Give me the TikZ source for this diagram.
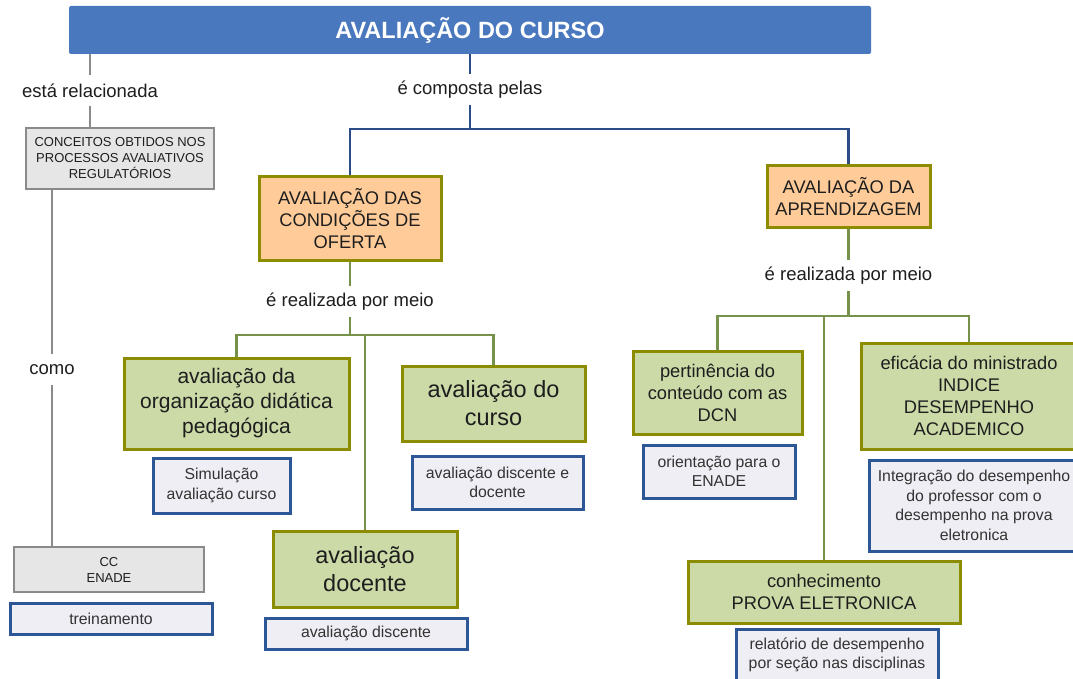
\documentclass[tikz,border=0pt]{standalone}
\usepackage{fontspec}
\setmainfont{Liberation Sans}
\usetikzlibrary{calc}
\definecolor{titlefill}{HTML}{4A78BE}
\definecolor{txt}{HTML}{1E1E1E}
\definecolor{graybd}{HTML}{8A8A8A}
\definecolor{grayfill}{HTML}{E6E6E6}
\definecolor{orfill}{HTML}{FFCC99}
\definecolor{olivebd}{HTML}{8C8C00}
\definecolor{grfill}{HTML}{CCDAA8}
\definecolor{bfill}{HTML}{EFEEF4}
\definecolor{bbd}{HTML}{2C5696}
\definecolor{bline}{HTML}{2B4C86}
\definecolor{gline}{HTML}{76924A}
\tikzset{
  basebox/.style={rectangle, inner sep=0pt, align=center, text=txt},
  graybox/.style={basebox, fill=grayfill, draw=graybd, line width=2.6pt},
  orbox/.style={basebox, fill=orfill, draw=olivebd, line width=3pt},
  grbox/.style={basebox, fill=grfill, draw=olivebd, line width=3pt},
  blbox/.style={basebox, fill=bfill, draw=bbd, line width=3pt, text=black!80},
  lbl/.style={rectangle, inner sep=0pt, align=center, text=txt, font=\fontsize{18.5}{22}\selectfont},
  grayconn/.style={draw=graybd, line width=2.8pt},
  blueconn/.style={draw=bline, line width=2.8pt},
  greenconn/.style={draw=gline, line width=2.8pt},
  fA/.style={font=\fontsize{13}{16}\selectfont},
  fB/.style={font=\fontsize{15.8}{19.5}\selectfont},
  fC/.style={font=\fontsize{18.3}{22}\selectfont},
  fD/.style={font=\fontsize{21}{25}\selectfont},
  fE/.style={font=\fontsize{23.5}{28}\selectfont},
}
% \bx{name}{style}{x1}{y1}{x2}{y2}{text}
\newcommand\bx[7]{\node[#2, minimum width={#5-#3}, minimum height={#6-#4}] (#1) at ({(#3+#5)/2},{(#4+#6)/2}) {#7};}
\begin{document}
\begin{tikzpicture}[x=1pt,y=-1pt]
\useasboundingbox (0,0) rectangle (1073,679);
\fill[white] (0,0) rectangle (1073,679);
\clip (0,0) rectangle (1073,679);

% title
\node[rectangle, rounded corners=2pt, fill=titlefill, minimum width=802, minimum height=48, inner sep=0pt,
  text=white, font=\fontsize{23.5}{28}\selectfont\bfseries] (title) at (470,30) {AVALIAÇÃO DO CURSO};

% left branch
\node[lbl, minimum height=31] (l1) at (90,90.5) {está relacionada};
\bx{conc}{graybox,fA}{26}{128}{214}{189}{CONCEITOS OBTIDOS NOS\\PROCESSOS AVALIATIVOS\\REGULATÓRIOS}
\node[lbl, minimum height=31] (l2) at (52,369.5) {como};
\bx{cc}{graybox,fA}{14}{547}{204}{592}{CC\\ENADE}
\bx{trein}{blbox,fB}{10}{603}{212}{634}{treinamento}

\draw[grayconn] (l1.north |- title.south) -- (l1.north);
\draw[grayconn] (l1.south) -- (l1.south |- conc.north);
\draw[grayconn] (l2.north |- conc.south) -- (l2.north);
\draw[grayconn] (l2.south) -- (l2.south |- cc.north);

% composed
\node[lbl, minimum height=31] (l3) at (470,89.5) {é composta pelas};
\coordinate (jb) at (470,129);
\bx{ofe}{orbox,fC}{259}{177}{441}{260}{AVALIAÇÃO DAS\\CONDIÇÕES DE\\OFERTA}
\bx{apr}{orbox,fC}{767}{166}{930}{227}{AVALIAÇÃO DA\\APRENDIZAGEM}
\draw[blueconn] (l3.north |- title.south) -- (l3.north);
\draw[blueconn] (l3.south) -- (jb);
\draw[blueconn] (ofe.north) -- (ofe.north |- jb) -- (apr.north |- jb) -- (apr.north);

% left green group
\node[lbl, minimum height=31] (l4) at (350,301.5) {é realizada por meio};
\coordinate (jg1) at (350,335);
\bx{org}{grbox,fD}{124}{358}{349}{449}{avaliação da\\organização didática\\pedagógica}
\bx{sim}{blbox,fB}{153}{458}{290}{513}{Simulação\\avaliação curso}
\bx{cur}{grbox,fE}{402}{366}{585}{441}{avaliação do\\curso}
\bx{dd}{blbox,fB}{412}{456}{583}{509}{avaliação discente e\\docente}
\bx{doc}{grbox,fE}{273}{531}{457}{607}{avaliação\\docente}
\bx{disc}{blbox,fB}{265}{618}{467}{649}{avaliação discente}
\draw[greenconn] (ofe.south) -- (l4.north);
\draw[greenconn] (l4.south) -- (jg1);
\draw[greenconn] (org.north) -- (org.north |- jg1) -- (cur.north |- jg1) -- (cur.north);
\draw[greenconn] (doc.north |- jg1) -- (doc.north);

% right green group
\node[lbl, minimum height=31] (l5) at (848.5,275.5) {é realizada por meio};
\coordinate (jg2) at (848.5,316);
\bx{per}{grbox,fC}{633}{351}{802}{434}{pertinência do\\conteúdo com as\\DCN}
\bx{ori}{blbox,fB}{643}{445}{795}{498}{orientação para o\\ENADE}
\bx{efi}{grbox,fC}{861}{343}{1077}{449}{eficácia do ministrado\\INDICE\\DESEMPENHO\\ACADEMICO}
\bx{integ}{blbox,fB}{869}{460}{1079}{551}{Integração do desempenho\\do professor com o\\desempenho na prova\\eletronica}
\bx{con}{grbox,fC}{688}{561}{960}{623}{conhecimento\\PROVA ELETRONICA}
\bx{rel}{blbox,fB}{736}{629}{938}{681}{relatório de desempenho\\por seção nas disciplinas}
\draw[greenconn] (apr.south) -- (l5.north);
\draw[greenconn] (l5.south) -- (jg2);
\draw[greenconn] (per.north) -- (per.north |- jg2) -- (efi.north |- jg2) -- (efi.north);
\draw[greenconn] (con.north |- jg2) -- (con.north);
\end{tikzpicture}
\end{document}
